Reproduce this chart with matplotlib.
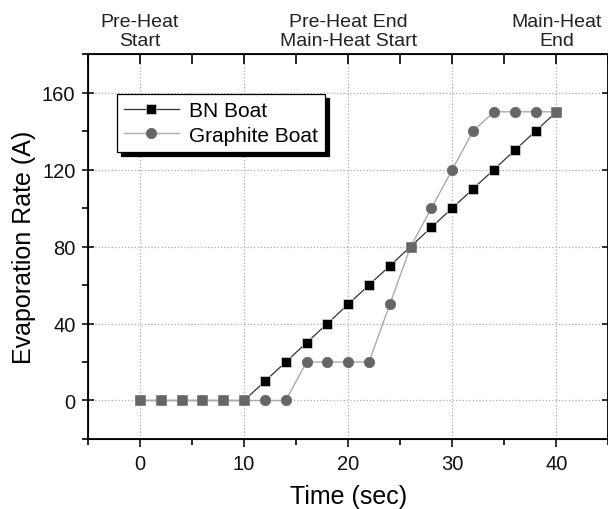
import matplotlib
matplotlib.use("Agg")
import matplotlib.pyplot as plt
from matplotlib.patches import Shadow
import numpy as np

plt.rcParams['font.family'] = ['Liberation Sans', 'DejaVu Sans']

# Data
time_s = [0, 2, 4, 6, 8, 10, 12, 14, 16, 18, 20, 22, 24, 26, 28, 30, 32, 34, 36, 38, 40]
bn_boat = [0, 0, 0, 0, 0, 0, 10, 20, 30, 40, 50, 60, 70, 80, 90, 100, 110, 120, 130, 140, 150]
graphite_boat = [0, 0, 0, 0, 0, 0, 0, 0, 20, 20, 20, 20, 50, 80, 100, 120, 140, 150, 150, 150, 150]

top_pos = [0, 20, 40]
top_labels = ["Pre-Heat\nStart", "Pre-Heat End\nMain-Heat Start", "Main-Heat\nEnd"]

fig = plt.figure(figsize=(6.08, 5.10), dpi=100)
ax = fig.add_axes([0.1447, 0.1373, 0.856, 0.7547])

ax.plot(time_s, bn_boat, color='#333333', lw=0.9, marker='s', ms=6.5,
        mfc='black', mec='#dddddd', mew=0.5, label='BN Boat', zorder=3)
ax.plot(time_s, graphite_boat, color='#aaaaaa', lw=1.0, marker='o', ms=7.5,
        mfc='#666666', mec='#666666', mew=0.5, label='Graphite Boat', zorder=4)

# points where both series coincide show as grey squares
t = np.array(time_s)
bn = np.array(bn_boat)
gr = np.array(graphite_boat)
same = bn == gr
ax.plot(t[same], bn[same], ls='none', marker='s', ms=6.5,
        mfc='#666666', mec='#888888', mew=0.5, zorder=5)

ax.set_xlim(-5, 45)
ax.set_ylim(-20, 180)
ax.set_xticks([0, 10, 20, 30, 40])
ax.set_xticks([-5, 5, 15, 25, 35, 45], minor=True)
ax.set_yticks([0, 40, 80, 120, 160])
ax.set_yticks([-20, 20, 60, 100, 140, 180], minor=True)
ax.grid(True, which='major', ls=':', color='#aaaaaa', lw=0.9)

ax.tick_params(axis='both', which='major', direction='out', length=6, width=1.2,
               labelsize=14.5, colors='#111111', pad=5)
ax.tick_params(axis='both', which='minor', direction='out', length=4, width=1.2)
ax.tick_params(axis='y', which='major', right=True, direction='inout', length=8)
for s in ax.spines.values():
    s.set_linewidth(1.3)

ax.set_xlabel("Time (sec)", fontsize=18, labelpad=8)
ax.set_ylabel("Evaporation Rate (A)", fontsize=18, labelpad=4)

# top axis with phase labels
top = ax.twiny()
top.set_xlim(ax.get_xlim())
top.set_xticks(np.arange(-5, 46, 5))
top.set_xticklabels([top_labels[top_pos.index(v)] if v in top_pos else ''
                     for v in range(-5, 46, 5)], fontsize=14, color='#222222',
                    linespacing=1.1)
top.tick_params(axis='x', direction='in', length=7, width=1.2, pad=4)

leg = ax.legend(loc='upper left', bbox_to_anchor=(0.056, 0.896), borderaxespad=0,
                fontsize=15, frameon=True, fancybox=False, framealpha=1,
                edgecolor='black', handlelength=2.6, handletextpad=0.5,
                borderpad=0.35, labelspacing=0.25)
leg.get_frame().set_linewidth(0.9)
leg.set_zorder(10)

# heavier drop shadow behind the legend box
fig.canvas.draw()
sh = Shadow(leg.get_frame(), 3, -3, color='black', alpha=1)
sh.set_zorder(9)
ax.add_artist(sh)

fig.savefig("out.png", dpi=100)
